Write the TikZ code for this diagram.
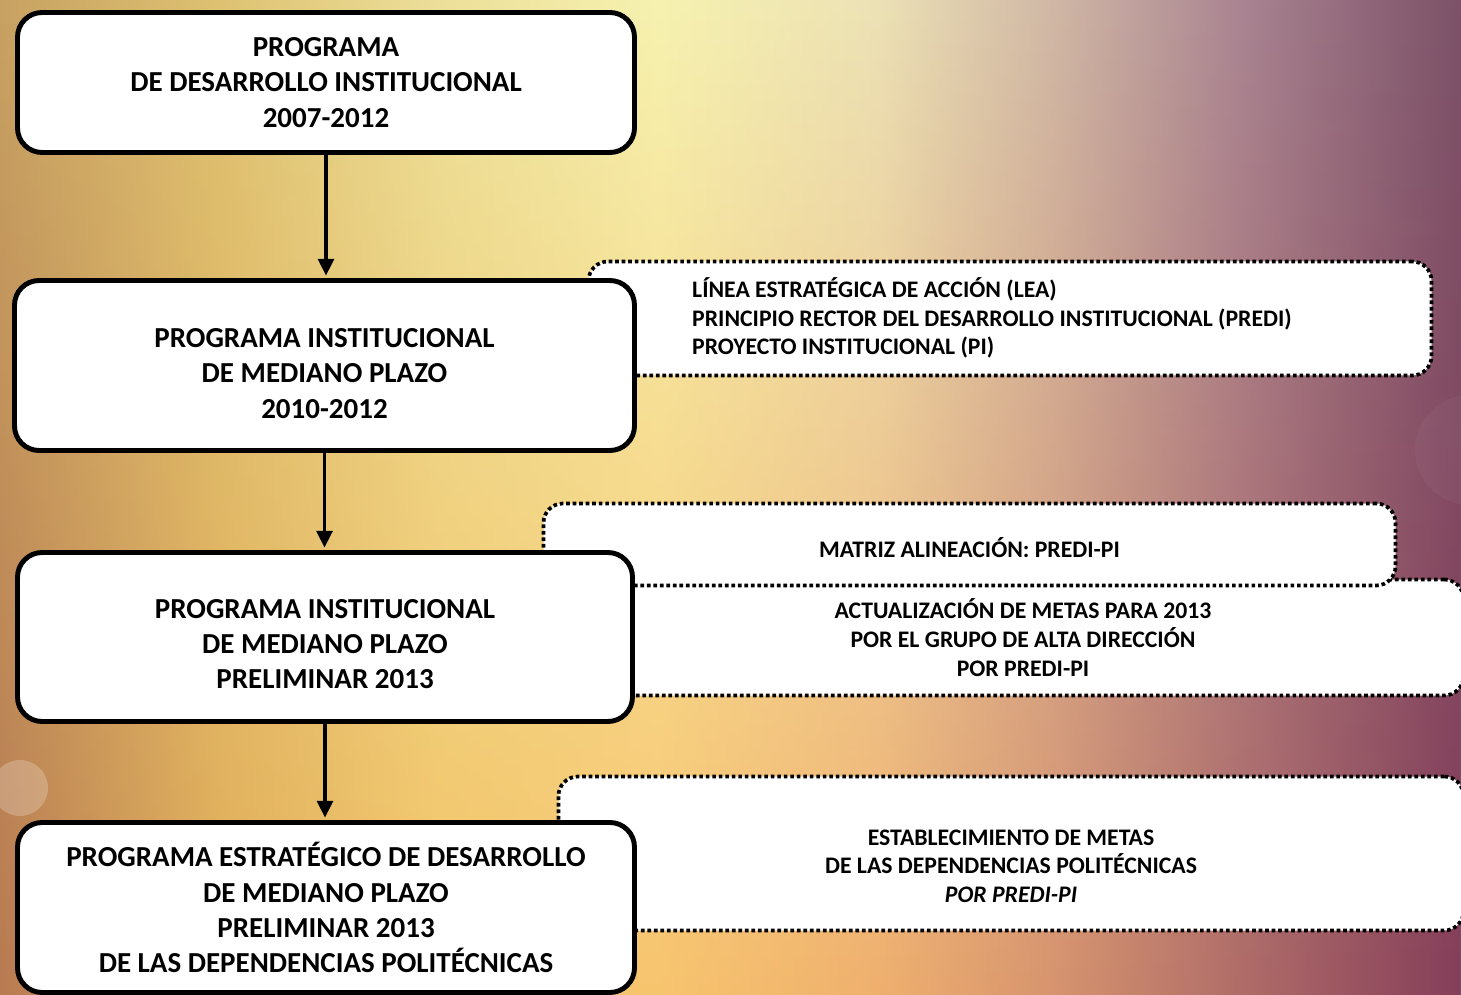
\documentclass[tikz,border=0pt]{standalone}
\usepackage{fontspec}
\setmainfont{Carlito}
\usepackage{tikz}
\usetikzlibrary{arrows.meta,fadings}

\definecolor{topA}{HTML}{C8A262}
\definecolor{topB}{HTML}{DEC272}
\definecolor{topC}{HTML}{ECE09A}
\definecolor{topD}{HTML}{F6F2B0}
\definecolor{topE}{HTML}{ECE2B6}
\definecolor{topF}{HTML}{D0B8A6}
\definecolor{topG}{HTML}{A98492}
\definecolor{topH}{HTML}{7C5268}
\definecolor{botA}{HTML}{B87A52}
\definecolor{botB}{HTML}{E2AE5A}
\definecolor{botC}{HTML}{F4C468}
\definecolor{botD}{HTML}{F8C46E}
\definecolor{botE}{HTML}{F0B06E}
\definecolor{botF}{HTML}{D8946E}
\definecolor{botG}{HTML}{B06C68}
\definecolor{botH}{HTML}{863E5A}

\pgfdeclarehorizontalshading{bgtop}{100bp}{color(0bp)=(topA); color(25bp)=(topA);
  color(32.5bp)=(topB); color(40bp)=(topC); color(47.5bp)=(topD); color(55bp)=(topE);
  color(61bp)=(topF); color(67.5bp)=(topG); color(75bp)=(topH); color(100bp)=(topH)}
\pgfdeclarehorizontalshading{bgbot}{100bp}{color(0bp)=(botA); color(25bp)=(botA);
  color(32.5bp)=(botB); color(40bp)=(botC); color(47.5bp)=(botD); color(55bp)=(botE);
  color(61bp)=(botF); color(67.5bp)=(botG); color(75bp)=(botH); color(100bp)=(botH)}
\tikzfading[name=fadedown, top color=transparent!100, middle color=transparent!75, bottom color=transparent!0]

\begin{document}
\begin{tikzpicture}[
  box/.style={draw,line width=2.8pt,rounded corners=14pt,fill=white,align=center,
    font=\fontsize{16.5}{20}\selectfont\bfseries},
  boxtext/.style={align=center,font=\fontsize{16.5}{20}\selectfont\bfseries},
  dots/.style={draw,line width=2.1pt,dash pattern=on 2.1pt off 1.6pt,rounded corners=11pt,
    fill=white,align=center,font=\fontsize{13.5}{16.3}\selectfont\bfseries},
  dotstext/.style={align=center,font=\fontsize{13.5}{16.3}\selectfont\bfseries},
  arr/.style={-{Triangle[length=9.5pt,width=9pt]},line width=2pt}
]
\useasboundingbox (0,0) rectangle (29.22,-19.9);
\clip (0,0) rectangle (29.22,-19.9);
\shade[shading=bgtop] (0,0) rectangle (29.22,-19.9);
\shade[shading=bgbot,path fading=fadedown] (0,0) rectangle (29.22,-19.9);
\fill[white,opacity=0.22] (0.4,-15.76) circle (0.56);
\fill[white,opacity=0.04] (29.4,-9.0) circle (1.1);

\node[dots,minimum width=17.62cm,minimum height=2.32cm] (d3) at (20.46,-12.75)
  {ACTUALIZACIÓN DE METAS PARA 2013\\POR EL GRUPO DE ALTA DIRECCIÓN\\POR PREDI-PI};
\node[dots,minimum width=17.04cm,minimum height=1.64cm] (d2) at (19.39,-10.89) {};
\node[dotstext] (t2) at (19.39,-10.96) {MATRIZ ALINEACIÓN: PREDI-PI};
\node[dots,minimum width=16.86cm,minimum height=2.28cm] (d1) at (20.2,-6.37) {};
\node[dotstext,align=left,anchor=west] (t1) at (13.72,-6.36)
  {LÍNEA ESTRATÉGICA DE ACCIÓN (LEA)\\PRINCIPIO RECTOR DEL DESARROLLO INSTITUCIONAL (PREDI)\\PROYECTO INSTITUCIONAL (PI)};
\node[dots,minimum width=18.1cm,minimum height=3.08cm] (d4) at (20.22,-17.07) {};
\node[dotstext] (t4) at (20.22,-17.32)
  {ESTABLECIMIENTO DE METAS\\DE LAS DEPENDENCIAS POLITÉCNICAS\\\textit{POR PREDI-PI}};

\node[box,minimum width=12.34cm,minimum height=2.8cm] (p1) at (6.52,-1.65)
  {PROGRAMA\\DE DESARROLLO INSTITUCIONAL\\2007-2012};
\node[box,minimum width=12.4cm,minimum height=3.4cm] (p2) at (6.49,-7.31) {};
\node[boxtext] (p2t) at (6.49,-7.47) {PROGRAMA INSTITUCIONAL\\DE MEDIANO PLAZO\\2010-2012};
\node[box,minimum width=12.3cm,minimum height=3.38cm] (p3) at (6.5,-12.74) {};
\node[boxtext] (p3t) at (6.5,-12.88) {PROGRAMA INSTITUCIONAL\\DE MEDIANO PLAZO\\PRELIMINAR 2013};
\node[box,minimum width=12.34cm,minimum height=3.4cm] (p4) at (6.52,-18.15)
  {PROGRAMA ESTRATÉGICO DE DESARROLLO\\DE MEDIANO PLAZO\\PRELIMINAR 2013\\DE LAS DEPENDENCIAS POLITÉCNICAS};

\draw[arr] (p1.south) -- ([yshift=1.4pt]p1.south |- p2.north);
\draw[arr] (p2.south) -- ([yshift=1.4pt]p2.south |- p3.north);
\draw[arr] (p3.south) -- ([yshift=1.4pt]p3.south |- p4.north);

\end{tikzpicture}
\end{document}
